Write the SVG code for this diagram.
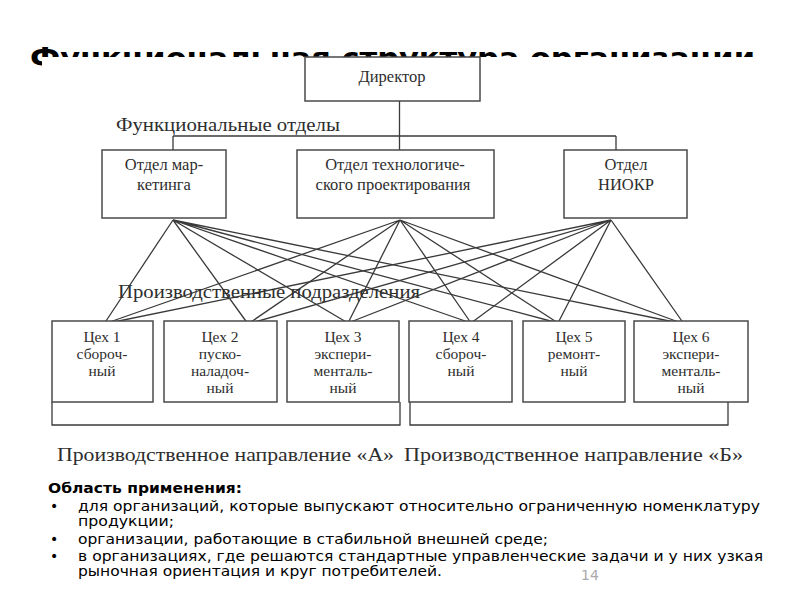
<svg xmlns="http://www.w3.org/2000/svg" width="800" height="600" viewBox="0 0 800 600">
<style>
.box{fill:#fff;stroke:#4a4a4a;stroke-width:1.5}
.ln{fill:none;stroke:#3a3a3a;stroke-width:1.3}
.t{font-family:"Liberation Serif","DejaVu Serif",serif;fill:#2e2e2e;text-anchor:middle;font-size:16.5px}
.w{font-size:15.5px}
.lbl{font-family:"Liberation Serif","DejaVu Serif",serif;fill:#2e2e2e;font-size:19px}
.s{font-family:"DejaVu Sans","Noto Sans",sans-serif;fill:#000;font-size:14px}
</style>
<rect width="800" height="600" fill="#fff"/>
<text x="30" y="68" font-family="DejaVu Sans, sans-serif" font-weight="bold" font-size="28" textLength="725" lengthAdjust="spacingAndGlyphs">Функциональная структура организации</text>
<rect x="42" y="57" width="730" height="412" fill="#fff"/>

<g id="connectors">
<path class="ln" d="M399.5,101 V150 M173,136 H616 M173,136 V150 M616,136 V150"/>
<path class="ln" d="M173,220 L104,324 M173,220 L248,324 M173,220 L348,323 M173,220 L471,323 M173,220 L558,323 M173,220 L684,324"/>
<path class="ln" d="M400,220 L104,324 M400,220 L248,324 M400,220 L348,323 M400,220 L471,323 M400,220 L558,323 M400,220 L684,324"/>
<path class="ln" d="M611,220 L104,324 M611,220 L248,324 M611,220 L348,323 M611,220 L471,323 M611,220 L558,323 M611,220 L684,324"/>
<path class="ln" d="M52,402 V425 H400 V402 M410,402 V425 H728 V402"/>
</g>

<text class="lbl" x="116" y="131" textLength="224" lengthAdjust="spacingAndGlyphs">Функциональные отделы</text>
<text class="lbl" x="118" y="298" textLength="302" lengthAdjust="spacingAndGlyphs">Производственные подразделения</text>

<g id="director">
<rect class="box" x="305" y="57" width="175" height="44"/>
<text class="t" x="392" y="82" font-size="17">Директор</text>
</g>

<g id="dept-marketing">
<rect class="box" x="102" y="150" width="124" height="68"/>
<text class="t" x="164" y="170">Отдел мар-</text>
<text class="t" x="164" y="190">кетинга</text>
</g>
<g id="dept-tech">
<rect class="box" x="297" y="150" width="197" height="68"/>
<text class="t" x="395" y="170">Отдел технологиче-</text>
<text class="t" x="393" y="190">ского проектирования</text>
</g>
<g id="dept-niokr">
<rect class="box" x="564" y="150" width="123" height="68"/>
<text class="t" x="626" y="170">Отдел</text>
<text class="t" x="626" y="190">НИОКР</text>
</g>

<g id="ceh1">
<rect class="box" x="52" y="321" width="101" height="81"/>
<text class="t w" x="102" y="342">Цех 1</text>
<text class="t w" x="102" y="359">сбороч-</text>
<text class="t w" x="102" y="376">ный</text>
</g>
<g id="ceh2">
<rect class="box" x="164" y="321" width="113" height="81"/>
<text class="t w" x="220" y="342">Цех 2</text>
<text class="t w" x="220" y="359">пуско-</text>
<text class="t w" x="220" y="376">наладоч-</text>
<text class="t w" x="220" y="393">ный</text>
</g>
<g id="ceh3">
<rect class="box" x="287" y="321" width="112" height="81"/>
<text class="t w" x="343" y="342">Цех 3</text>
<text class="t w" x="343" y="359">экспери-</text>
<text class="t w" x="343" y="376">менталь-</text>
<text class="t w" x="343" y="393">ный</text>
</g>
<g id="ceh4">
<rect class="box" x="409" y="321" width="103" height="81"/>
<text class="t w" x="461" y="342">Цех 4</text>
<text class="t w" x="461" y="359">сбороч-</text>
<text class="t w" x="461" y="376">ный</text>
</g>
<g id="ceh5">
<rect class="box" x="523" y="321" width="102" height="81"/>
<text class="t w" x="574" y="342">Цех 5</text>
<text class="t w" x="574" y="359">ремонт-</text>
<text class="t w" x="574" y="376">ный</text>
</g>
<g id="ceh6">
<rect class="box" x="634" y="321" width="114" height="81"/>
<text class="t w" x="691" y="342">Цех 6</text>
<text class="t w" x="691" y="359">экспери-</text>
<text class="t w" x="691" y="376">менталь-</text>
<text class="t w" x="691" y="393">ный</text>
</g>

<text class="lbl" x="57" y="461" font-size="20" textLength="337" lengthAdjust="spacingAndGlyphs">Производственное направление «А»</text>
<text class="lbl" x="404" y="461" font-size="20" textLength="339" lengthAdjust="spacingAndGlyphs">Производственное направление «Б»</text>

<g id="notes">
<text class="s" x="48" y="493" font-weight="bold" textLength="194" lengthAdjust="spacingAndGlyphs">Область применения:</text>
<text class="s" x="50" y="511">•</text>
<text class="s" x="78" y="511" textLength="682" lengthAdjust="spacingAndGlyphs">для организаций, которые выпускают относительно ограниченную номенклатуру</text>
<text class="s" x="78" y="526" textLength="96" lengthAdjust="spacingAndGlyphs">продукции;</text>
<text class="s" x="50" y="544">•</text>
<text class="s" x="78" y="544" textLength="470" lengthAdjust="spacingAndGlyphs">организации, работающие в стабильной внешней среде;</text>
<text class="s" x="50" y="561">•</text>
<text class="s" x="78" y="561" textLength="685" lengthAdjust="spacingAndGlyphs">в организациях, где решаются стандартные управленческие задачи и у них узкая</text>
<text class="s" x="78" y="576" textLength="364" lengthAdjust="spacingAndGlyphs">рыночная ориентация и круг потребителей.</text>
<text x="581" y="580" font-family="DejaVu Sans, sans-serif" font-size="14" fill="#aaa">14</text>
</g>
</svg>
